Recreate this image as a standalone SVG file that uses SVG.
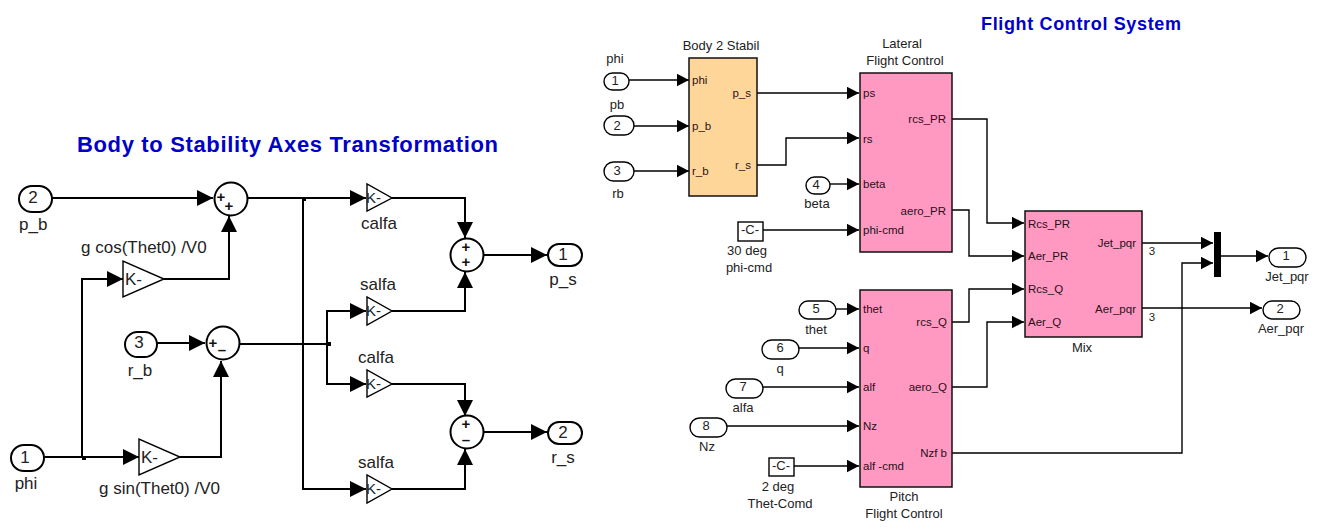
<svg xmlns="http://www.w3.org/2000/svg" width="1323" height="529" viewBox="0 0 1323 529">
<style>
text{font-family:"Liberation Sans",Arial,sans-serif;fill:#222}
.l{font-size:17px}.s{font-size:13px}.i{font-size:11.500px;fill:#2a1018}.k{font-size:15px}.m{text-anchor:middle}.e{text-anchor:end}
.t{font-weight:bold;fill:#0000cc}
.b{fill:#fff;stroke:#000;stroke-width:2}
.b1{fill:#fff;stroke:#000;stroke-width:1.4}
.o{fill:#ffd699;stroke:#111;stroke-width:1.5}
.p{fill:#ff99c2;stroke:#111;stroke-width:1.5}
.c2 path{fill:none;stroke:#000;stroke-width:2}
.c1 path{fill:none;stroke:#000;stroke-width:1.4}
.c2 path{marker-end:url(#a2)}.c1 path{marker-end:url(#a1)}
.c2 path.n,.c1 path.n{marker-end:none}
.sg{font-size:15px;font-weight:bold;text-anchor:middle;fill:#111}
</style>
<defs>
<marker id="a2" markerUnits="userSpaceOnUse" markerWidth="17" markerHeight="16" refX="16" refY="8" orient="auto"><path d="M0 0L16 8L0 16Z" fill="#000"/></marker>
<marker id="a1" markerUnits="userSpaceOnUse" markerWidth="13" markerHeight="14" refX="12.500" refY="6.500" orient="auto"><path d="M0 0L12.500 6.500L0 13Z" fill="#000"/></marker>
</defs>

<g id="connectors">
<g class="c2">
<path d="M52 198H213"/>
<path d="M164 279H229V216"/>
<path d="M82 457V279H123"/>
<path d="M44 457H139"/>
<path d="M157 343H205"/>
<path d="M180 457H221V361"/>
<path d="M248 198H366"/>
<path d="M303 198V489H366"/>
<path d="M240 344H327" class="n"/>
<path d="M327 344V311H366"/>
<path d="M327 344V384H366"/>
<path d="M392 198H465V238"/>
<path d="M392 311H465V272"/>
<path d="M392 384H465V416"/>
<path d="M392 489H465V449"/>
<path d="M483 255H547"/>
<path d="M483 432H547"/>
</g>
<g class="c1">
<path d="M629 80H689"/>
<path d="M634 126H689"/>
<path d="M634 171H689"/>
<path d="M757 93H859"/>
<path d="M757 165H786V138H859"/>
<path d="M830 184H859"/>
<path d="M763 230H859"/>
<path d="M836 309H859"/>
<path d="M799 348H859"/>
<path d="M763 387H859"/>
<path d="M727 426H859"/>
<path d="M794 466H859"/>
<path d="M952 119H987V223H1024"/>
<path d="M952 210H969V256H1024"/>
<path d="M952 322H969V289H1024"/>
<path d="M952 387H987V322H1024"/>
<path d="M952 453H1182V263H1213"/>
<path d="M1142 243H1213"/>
<path d="M1221 256H1268"/>
<path d="M1142 308H1262"/>
</g>
<rect x="302" y="197" width="4" height="4" fill="#000"/>
<rect x="327" y="342" width="4" height="4" fill="#000"/>
<rect x="82" y="456" width="4" height="4" fill="#000"/>
</g>

<g id="title-left"><text x="77" y="152" class="t" font-size="22" textLength="421">Body to Stability Axes Transformation</text></g>
<g id="title-right"><text x="981" y="30" class="t" font-size="18" textLength="200">Flight Control System</text></g>

<g id="in-p_b"><rect class="b" x="19" y="186" width="33" height="26" rx="13"/><text class="l m" x="33" y="203">2</text><text class="l" x="19" y="230">p_b</text></g>
<g id="in-r_b"><rect class="b" x="125" y="332" width="32" height="25" rx="12.500"/><text class="l m" x="139" y="348">3</text><text class="l m" x="140" y="376">r_b</text></g>
<g id="in-phi"><rect class="b" x="11" y="445" width="33" height="26" rx="13"/><text class="l m" x="25" y="463">1</text><text class="l m" x="26" y="489">phi</text></g>

<g id="sum1"><circle class="b" cx="231" cy="199" r="16.500"/><text class="sg" x="221" y="202">+</text><text class="sg" x="229" y="211">+</text></g>
<g id="sum2"><circle class="b" cx="223" cy="343" r="16.500"/><text class="sg" x="213" y="348">+</text><text class="sg" x="222" y="355">–</text></g>
<g id="sum3"><circle class="b" cx="467" cy="255" r="16.500"/><text class="sg" x="466" y="252">+</text><text class="sg" x="466" y="267">+</text></g>
<g id="sum4"><circle class="b" cx="467" cy="432" r="16.500"/><text class="sg" x="466" y="429">+</text><text class="sg" x="466" y="445">–</text></g>

<g id="gain-cos"><path class="b1" d="M123 261V297L164 279Z"/><text class="l" x="125" y="285">K-</text><text class="l" x="81" y="253">g cos(Thet0) /V0</text></g>
<g id="gain-sin"><path class="b1" d="M139 439V475L180 457Z"/><text class="l" x="141" y="463">K-</text><text class="l" x="99" y="494">g sin(Thet0) /V0</text></g>
<g id="gain-calfa1"><path class="b1" d="M367 184V211L392 198Z"/><text class="k" x="366" y="203">K-</text><text class="l m" x="379" y="229">calfa</text></g>
<g id="gain-salfa1"><path class="b1" d="M367 297V325L392 311Z"/><text class="k" x="366" y="316">K-</text><text class="l m" x="378" y="290">salfa</text></g>
<g id="gain-calfa2"><path class="b1" d="M367 370V397L392 384Z"/><text class="k" x="366" y="389">K-</text><text class="l m" x="376" y="363">calfa</text></g>
<g id="gain-salfa2"><path class="b1" d="M367 475V503L392 489Z"/><text class="k" x="366" y="494">K-</text><text class="l m" x="376" y="468">salfa</text></g>

<g id="out-p_s"><rect class="b" x="548" y="244" width="34" height="22" rx="11"/><text class="l m" x="563" y="260">1</text><text class="l m" x="563" y="285">p_s</text></g>
<g id="out-r_s"><rect class="b" x="548" y="422" width="34" height="22" rx="11"/><text class="l m" x="563" y="438">2</text><text class="l m" x="563" y="463">r_s</text></g>

<g id="in1"><rect class="b1" x="604" y="73" width="25" height="17" rx="8.500"/><text class="s m" x="615" y="85">1</text><text class="s m" x="615" y="63">phi</text></g>
<g id="in2"><rect class="b1" x="604" y="116" width="30" height="19" rx="9.500"/><text class="s m" x="617" y="130">2</text><text class="s m" x="617" y="109">pb</text></g>
<g id="in3"><rect class="b1" x="604" y="162" width="30" height="19" rx="9.500"/><text class="s m" x="617" y="175">3</text><text class="s m" x="618" y="198">rb</text></g>
<g id="in4"><rect class="b1" x="806" y="177" width="24" height="17" rx="8.500"/><text class="s m" x="816" y="189">4</text><text class="s m" x="817" y="208">beta</text></g>
<g id="const-phi"><rect class="b1" x="738" y="222" width="25" height="19"/><text class="s m" x="750" y="234">-C-</text><text class="s m" x="747" y="255">30 deg</text><text class="s m" x="749" y="272">phi-cmd</text></g>

<g id="body2stabil"><rect class="o" x="689" y="58" width="68" height="138"/><text class="s m" x="721" y="50">Body 2 Stabil</text>
<text class="i" x="692" y="84">phi</text><text class="i" x="692" y="130">p_b</text><text class="i" x="692" y="175">r_b</text><text class="i e" x="751" y="97">p_s</text><text class="i e" x="751" y="169">r_s</text></g>

<g id="lateral"><rect class="p" x="860" y="73" width="92" height="179"/><text class="s m" x="902" y="48">Lateral</text><text class="s m" x="905" y="65">Flight Control</text>
<text class="i" x="863" y="97">ps</text><text class="i" x="863" y="143">rs</text><text class="i" x="863" y="188">beta</text><text class="i" x="863" y="234">phi-cmd</text><text class="i e" x="946" y="123">rcs_PR</text><text class="i e" x="946" y="215">aero_PR</text></g>

<g id="in5"><rect class="b1" x="799" y="301" width="37" height="18" rx="9"/><text class="s m" x="816" y="313">5</text><text class="s m" x="816" y="334">thet</text></g>
<g id="in6"><rect class="b1" x="762" y="340" width="37" height="19" rx="9.500"/><text class="s m" x="780" y="352">6</text><text class="s m" x="780" y="373">q</text></g>
<g id="in7"><rect class="b1" x="726" y="379" width="37" height="19" rx="9.500"/><text class="s m" x="743" y="391">7</text><text class="s m" x="743" y="412">alfa</text></g>
<g id="in8"><rect class="b1" x="690" y="418" width="37" height="19" rx="9.500"/><text class="s m" x="706" y="430">8</text><text class="s m" x="707" y="451">Nz</text></g>
<g id="const-alf"><rect class="b1" x="769" y="458" width="25" height="18"/><text class="s m" x="781" y="470">-C-</text><text class="s m" x="778" y="491">2 deg</text><text class="s m" x="780" y="508">Thet-Comd</text></g>

<g id="pitch"><rect class="p" x="860" y="290" width="92" height="197"/><text class="s m" x="904" y="501">Pitch</text><text class="s m" x="904" y="518">Flight Control</text>
<text class="i" x="863" y="313">thet</text><text class="i" x="863" y="352">q</text><text class="i" x="863" y="391">alf</text><text class="i" x="863" y="430">Nz</text><text class="i" x="863" y="470">alf -cmd</text><text class="i e" x="947" y="326">rcs_Q</text><text class="i e" x="947" y="391">aero_Q</text><text class="i e" x="947" y="457">Nzf b</text></g>

<g id="mix"><rect class="p" x="1025" y="211" width="117" height="126"/><text class="s m" x="1082" y="352">Mix</text>
<text class="i" x="1028" y="228">Rcs_PR</text><text class="i" x="1028" y="260">Aer_PR</text><text class="i" x="1028" y="293">Rcs_Q</text><text class="i" x="1028" y="326">Aer_Q</text><text class="i e" x="1136" y="247">Jet_pqr</text><text class="i e" x="1136" y="313">Aer_pqr</text></g>

<g id="mux"><rect x="1214" y="232" width="7" height="45" fill="#000"/></g>
<g id="sig-labels"><text class="i m" x="1152" y="255" style="fill:#222">3</text><text class="i m" x="1152" y="321" style="fill:#222">3</text></g>
<g id="out1"><rect class="b1" x="1269" y="248" width="37" height="19" rx="9.500"/><text class="s m" x="1286" y="260">1</text><text class="s m" x="1287" y="281">Jet_pqr</text></g>
<g id="out2"><rect class="b1" x="1263" y="301" width="37" height="18" rx="9"/><text class="s m" x="1280" y="313">2</text><text class="s m" x="1281" y="333">Aer_pqr</text></g>
</svg>
